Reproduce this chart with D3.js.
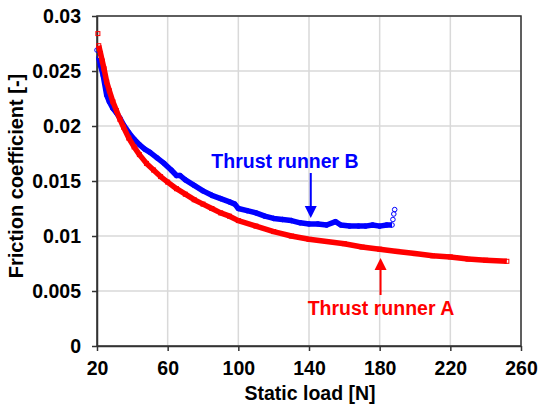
<!DOCTYPE html>
<html>
<head>
<meta charset="utf-8">
<script src="https://cdn.jsdelivr.net/npm/d3@7"></script>
<style>
  body { margin: 0; background: #fff; }
  text { font-family: "Liberation Sans", Arial, sans-serif; font-weight: bold; }
</style>
</head>
<body>
<div id="chart"></div>
<script>
// data
var loadA = [20.5, 21, 22, 23, 24, 25.5, 27, 29, 31, 33, 35, 38, 41, 44, 48, 52, 56, 60, 65, 70, 75, 80, 85, 90, 95, 100,
             110, 120, 130, 140, 150, 160, 170, 180, 190, 200, 210, 220, 230, 240, 252];
var frictionA = [0.0284, 0.0273, 0.0266, 0.0259, 0.0252, 0.0240, 0.0232, 0.0222, 0.0214, 0.0206, 0.0199, 0.0189, 0.0181, 0.0174,
                 0.0166, 0.0160, 0.0154, 0.0149, 0.0143, 0.0138, 0.0133, 0.0129, 0.0125, 0.0121, 0.0118, 0.0114,
                 0.0109, 0.0104, 0.0100, 0.0097, 0.0095, 0.0093, 0.0090, 0.0088, 0.0086, 0.0084, 0.0082, 0.0081, 0.0079, 0.0078, 0.0077];

var loadB = [20, 21, 22, 23.5, 25.5, 27, 29, 31, 33, 35, 38, 41, 44, 47, 50, 54, 58, 62, 65, 67, 70, 75, 80, 85, 90, 95, 98,
             100, 105, 110, 115, 120, 125, 130, 135, 140, 145, 150, 155, 158, 163, 168, 172, 176, 180, 184, 187, 187.5, 188, 188.5];
var frictionB = [0.0269, 0.0262, 0.0255, 0.0246, 0.0228, 0.0222, 0.0216, 0.0212, 0.0207, 0.0201, 0.0194, 0.0188, 0.0183, 0.0179,
                 0.0176, 0.0171, 0.0166, 0.0160, 0.0155, 0.0155, 0.0151, 0.0146, 0.0141, 0.0137, 0.0134, 0.0131, 0.0129,
                 0.0125, 0.0123, 0.0121, 0.0118, 0.0116, 0.0115, 0.0114, 0.0112, 0.0111, 0.0111, 0.0110, 0.0113, 0.0110,
                 0.0109, 0.0109, 0.0109, 0.0110, 0.0109, 0.0110, 0.0110, 0.0115, 0.0120, 0.0124];

var xTicks = [20, 60, 100, 140, 180, 220, 260];
var yTicks = [0, 0.005, 0.01, 0.015, 0.02, 0.025, 0.03];

// set the dimensions and margins of the graph
var margin = {top: 16, right: 17, bottom: 61, left: 97},
    width = 538 - margin.left - margin.right,
    height = 407 - margin.top - margin.bottom;

var svg = d3.select("#chart")
  .append("svg")
    .attr("width", 538)
    .attr("height", 407)
  .append("g")
    .attr("transform", "translate(" + margin.left + "," + margin.top + ")");

var x = d3.scaleLinear().domain([20, 260]).range([0, width]);
var y = d3.scaleLinear().domain([0, 0.03]).range([height, 0]);

// grid
svg.append("g")
  .selectAll("line.gx")
  .data(xTicks)
  .enter().append("line")
    .attr("x1", d => x(d)).attr("x2", d => x(d))
    .attr("y1", 0).attr("y2", height)
    .attr("stroke", "#d9d9d9").attr("stroke-width", 1.5);
svg.append("g")
  .selectAll("line.gy")
  .data(yTicks)
  .enter().append("line")
    .attr("x1", 0).attr("x2", width)
    .attr("y1", d => y(d)).attr("y2", d => y(d))
    .attr("stroke", "#d9d9d9").attr("stroke-width", 1.5);

// frame
svg.append("rect")
  .attr("width", width).attr("height", height)
  .attr("fill", "none").attr("stroke", "#333").attr("stroke-width", 1.5);

// axes
var xAxis = svg.append("g")
  .attr("transform", "translate(0," + height + ")")
  .call(d3.axisBottom(x).tickValues(xTicks).tickSizeOuter(0).tickSizeInner(5).tickPadding(10));
var yAxis = svg.append("g")
  .call(d3.axisLeft(y).tickValues(yTicks).tickFormat(d => d === 0 ? "0" : String(+d.toFixed(3))).tickSizeOuter(0).tickSizeInner(5).tickPadding(11));
[xAxis, yAxis].forEach(function(a) {
  a.select(".domain").attr("stroke", "#333").attr("stroke-width", 1.5);
  a.selectAll(".tick line").attr("stroke", "#333").attr("stroke-width", 1.5);
  a.selectAll(".tick text")
    .attr("fill", "#000")
    .style("font-size", "19.5px")
    .style("font-family", "'Liberation Sans', Arial, sans-serif")
    .style("font-weight", "bold");
});

// axis titles
svg.append("text")
  .attr("x", width / 2 + 1)
  .attr("y", height + 54)
  .attr("text-anchor", "middle")
  .style("font-size", "19.5px")
  .text("Static load [N]");
svg.append("text")
  .attr("transform", "rotate(-90)")
  .attr("x", -(176 - margin.top))
  .attr("y", -74)
  .attr("text-anchor", "middle")
  .style("font-size", "20px")
  .text("Friction coefficient [-]");

// series
var seriesA = loadA.map((v, i) => ({x: v, y: frictionA[i]}));
var seriesB = loadB.map((v, i) => ({x: v, y: frictionB[i]}));
var line = d3.line().x(d => x(d.x)).y(d => y(d.y));

svg.append("path")
  .datum(seriesB.slice(1, -3))
  .attr("d", line)
  .attr("fill", "none").attr("stroke", "#0000ff").attr("stroke-width", 5.5)
  .attr("stroke-linejoin", "round");
svg.selectAll("circle.b")
  .data(seriesB)
  .enter().append("circle")
    .attr("cx", d => x(d.x)).attr("cy", d => y(d.y))
    .attr("r", 2.3)
    .attr("fill", "none").attr("stroke", "#0000ff").attr("stroke-width", 1);

svg.append("path")
  .datum(seriesA.slice(1))
  .attr("d", line)
  .attr("fill", "none").attr("stroke", "#ff0000").attr("stroke-width", 5.5)
  .attr("stroke-linejoin", "round");
svg.selectAll("rect.a")
  .data(seriesA)
  .enter().append("rect")
    .attr("x", d => x(d.x) - 2).attr("y", d => y(d.y) - 2)
    .attr("width", 4).attr("height", 4)
    .attr("fill", "none").attr("stroke", "#ff0000").attr("stroke-width", 1);

// annotations
function arrow(xv, y0, y1, up, color) {
  var px = x(xv);
  svg.append("line")
    .attr("x1", px).attr("x2", px)
    .attr("y1", y0).attr("y2", up ? y1 + 10 : y1 - 10)
    .attr("stroke", color).attr("stroke-width", 2);
  var s = up ? 1 : -1;
  svg.append("path")
    .attr("d", "M" + px + "," + y1 + "L" + (px - 6) + "," + (y1 + s * 12) + "L" + (px + 6) + "," + (y1 + s * 12) + "Z")
    .attr("fill", color);
}
arrow(141, 173 - margin.top, 218 - margin.top, false, "#0000ff");
arrow(180.5, 295 - margin.top, 258 - margin.top, true, "#ff0000");

svg.append("text")
  .attr("x", 285 - margin.left)
  .attr("y", 168 - margin.top)
  .attr("text-anchor", "middle")
  .attr("fill", "#0000ff")
  .style("font-size", "19.5px")
  .text("Thrust runner B");
svg.append("text")
  .attr("x", 381 - margin.left)
  .attr("y", 315 - margin.top)
  .attr("text-anchor", "middle")
  .attr("fill", "#ff0000")
  .style("font-size", "19.5px")
  .text("Thrust runner A");
</script>
</body>
</html>
